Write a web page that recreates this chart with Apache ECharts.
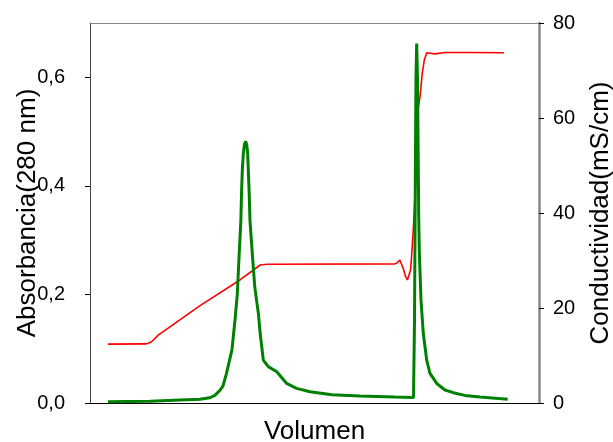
<!DOCTYPE html>
<html>
<head>
<meta charset="utf-8">
<script src="https://cdn.jsdelivr.net/npm/echarts@6/dist/echarts.min.js"></script>
<style>
  html, body { margin: 0; padding: 0; background: #fff; }
  #chart { width: 613px; height: 442px; }
</style>
</head>
<body>
<div id="chart"></div>
<script>
// volumen (arbitrary units, no tick labels in the original)
const absVolumen = [4.0, 13.4, 20.0, 24.5, 26.7, 27.8, 29.0, 29.6, 30.4, 31.6, 32.3, 32.8, 33.2, 33.6, 33.76, 33.92,
  34.14, 34.41, 34.68, 34.92, 35.12, 35.26, 35.46, 35.63, 36.19, 36.7, 37.1, 37.5, 37.9, 38.6, 39.7, 41.6,
  43.8, 46.0, 49.0, 53.9, 60.1, 67.9,
  72.05, 72.27, 72.45, 72.6, 72.76, 72.94, 73.05, 73.2, 73.34, 73.72, 74.23, 74.99, 75.72, 77.22,
  79.06, 80.91, 83.5, 86.86, 93.03];
// absorbancia a 280 nm
const absorbancia = [0.0024, 0.003, 0.0055, 0.0068, 0.0097, 0.014, 0.024, 0.031, 0.0546, 0.0974, 0.153, 0.2, 0.27, 0.336, 0.39, 0.428,
  0.459, 0.477, 0.482, 0.475, 0.459, 0.428, 0.385, 0.336, 0.27, 0.214, 0.189, 0.165, 0.128, 0.079, 0.067, 0.0576,
  0.036, 0.027, 0.0208, 0.015, 0.013, 0.011,
  0.0102, 0.15, 0.4, 0.6, 0.662, 0.6, 0.5, 0.35, 0.281, 0.189, 0.128, 0.079, 0.0546, 0.036,
  0.0239, 0.019, 0.014, 0.011, 0.0068];

const condVolumen = [4.0, 12.6, 13.7, 15.2, 24.5, 33.4, 36.4, 37.9, 39.4, 67.9, 68.4, 68.7, 69.0, 69.3, 69.8, 70.3,
  70.7, 70.9, 71.1, 71.4, 71.7, 72.0, 72.55, 72.9, 73.1, 73.5, 74.0, 74.45, 75.0, 76.8, 79.1, 84.6, 92.2];
// conductividad (mS/cm)
const conductividad = [12.4, 12.45, 12.9, 14.3, 20.5, 25.9, 28.0, 29.05, 29.2, 29.3, 29.5, 29.9, 30.1, 29.9, 28.2, 26.6,
  25.9, 25.75, 26.2, 28.0, 32.0, 36.4, 46.9, 57.5, 62.0, 64.5, 69.4, 72.2, 73.75, 73.5, 73.8, 73.8, 73.75];

const absTicks = [0, 0.2, 0.4, 0.6];
const condTicks = [0, 20, 40, 60, 80];

const font = 'Liberation Sans, Arial, sans-serif';
const chart = echarts.init(document.getElementById('chart'));

chart.setOption({
  animation: false,
  grid: { left: 90, right: 74, top: 23, bottom: 39, containLabel: false, outerBoundsMode: 'none' },
  xAxis: [
    {
      type: 'value', min: 0, max: 100, position: 'bottom',
      name: 'Volumen', nameLocation: 'middle', nameGap: 16, nameMoveOverlap: false,
      nameTextStyle: { fontSize: 26, color: '#000', fontFamily: font },
      axisLine: { onZero: false, lineStyle: { color: '#000', width: 1 } },
      axisTick: { show: false }, axisLabel: { show: false }, splitLine: { show: false }
    },
    {
      type: 'value', min: 0, max: 100, position: 'top',
      axisLine: { show: true, onZero: false, lineStyle: { color: '#888', width: 1 } },
      axisTick: { show: false }, axisLabel: { show: false }, splitLine: { show: false }
    }
  ],
  yAxis: [
    {
      type: 'value', min: absTicks[0], max: 0.7, interval: 0.2, position: 'left',
      name: 'Absorbancia(280 nm)', nameLocation: 'middle', nameGap: 49, nameMoveOverlap: false,
      nameTextStyle: { fontSize: 26, color: '#000', fontFamily: font },
      axisLine: { show: true, onZero: false, lineStyle: { color: '#444', width: 1 } },
      axisTick: { show: true, length: 5, lineStyle: { color: '#000' } },
      axisLabel: {
        fontSize: 20, color: '#000', fontFamily: font, margin: 25, showMaxLabel: false,
        formatter: v => v.toFixed(1).replace('.', ',')
      },
      splitLine: { show: false }
    },
    {
      type: 'value', min: condTicks[0], max: condTicks[condTicks.length - 1], interval: 20, position: 'right',
      name: 'Conductividad(mS/cm)', nameLocation: 'middle', nameGap: 49, nameMoveOverlap: false,
      nameTextStyle: { fontSize: 26, color: '#000', fontFamily: font },
      axisLine: { show: true, onZero: false, lineStyle: { color: '#888', width: 2.5 } },
      axisTick: { show: true, length: 5, lineStyle: { color: '#000' } },
      axisLabel: { fontSize: 20, color: '#000', fontFamily: font, margin: 14 },
      splitLine: { show: false }
    }
  ],
  series: [
    {
      name: 'Conductividad', type: 'line', yAxisIndex: 1, symbol: 'none',
      lineStyle: { color: '#ff0000', width: 1.6 },
      data: condVolumen.map((x, i) => [x, conductividad[i]])
    },
    {
      name: 'Absorbancia', type: 'line', yAxisIndex: 0, symbol: 'none',
      lineStyle: { color: '#008000', width: 3 },
      data: absVolumen.map((x, i) => [x, absorbancia[i]])
    }
  ]
});
</script>
</body>
</html>
